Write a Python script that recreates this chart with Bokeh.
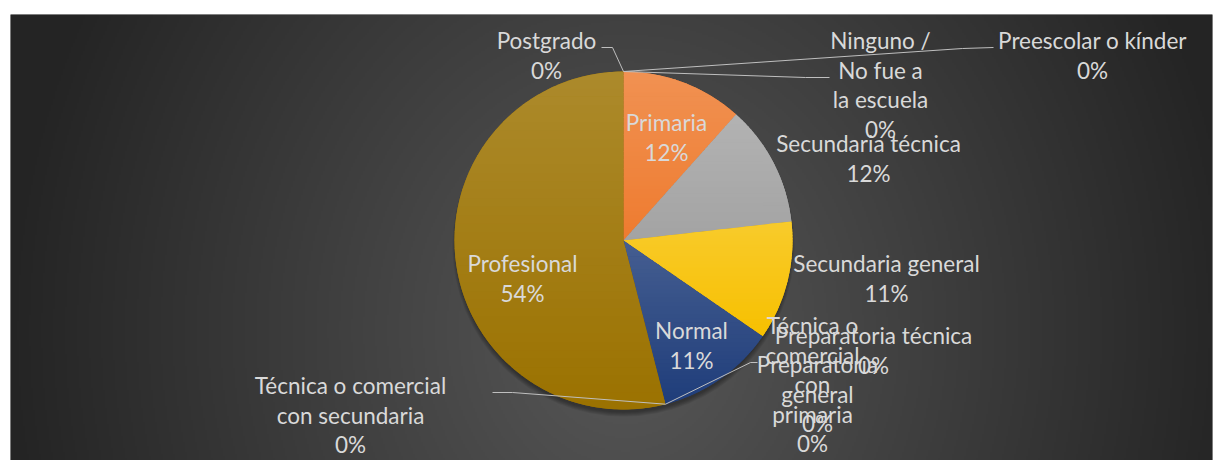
import numpy as np
from bokeh.plotting import figure
from bokeh.models import Range1d
from bokeh.embed import file_html
from bokeh.resources import INLINE
from bokeh.core.properties import value

# ---------------- data ----------------
categories = ["Ninguno / No fue a la escuela", "Preescolar o kínder", "Primaria",
              "Secundaria técnica", "Secundaria general",
              "Técnica o comercial con primaria", "Preparatoria técnica",
              "Preparatoria general", "Normal",
              "Técnica o comercial con secundaria", "Profesional", "Postgrado"]
values = [0, 0, 11.6, 11.6, 11.4, 0, 0, 0, 11.4, 0, 54.0, 0]

# label line wrapping (as displayed)
label_wrap = [["Ninguno /", "No fue a", "la escuela"], ["Preescolar o kínder"], ["Primaria"],
              ["Secundaria técnica"], ["Secundaria general"],
              ["Técnica o", "comercial", "con", "primaria"], ["Preparatoria técnica"],
              ["Preparatoria", "general"], ["Normal"],
              ["Técnica o comercial", "con secundaria"], ["Profesional"], ["Postgrado"]]

# ---------------- style / layout ----------------
colors = ["#5B9BD5", "#ED7D31", "#EE7B2F", "#A3A3A3", "#F7C000", "#4472C4",
          "#70AD47", "#264478", "#1F3D7A", "#636363", "#9B7200", "#43682B"]
# label positions in screen pixels (centre x, first line centre y)
label_pos = [(880, 40), (1092, 40), (666, 122), (868, 143), (886, 263), (812, 325),
             (873, 335), (817, 364), (691, 330), (350, 385), (522, 263), (546, 40)]
LINE_H = 29.5

X0, X1, Y0, Y1 = 10, 1212, 14, 460   # frame in screen px


def sy(y):
    return Y1 - y


p = figure(width=1221, height=460, output_backend="svg", toolbar_location=None,
           x_range=Range1d(X0, X1), y_range=Range1d(0, Y1 - Y0),
           x_axis_location=None, y_axis_location=None,
           min_border_left=10, min_border_right=9, min_border_top=14, min_border_bottom=0)
p.grid.visible = False
p.outline_line_color = None
p.border_fill_color = "white"
p.background_fill_color = "#3a3a3a"

# ---- background radial gradient ----
fw, fh = (X1 - X0) // 2, (Y1 - Y0) // 2
xs = X0 + (np.arange(fw) + 0.5) * 2
ys_data = (np.arange(fh) + 0.5) * 2
XX, YY = np.meshgrid(xs, sy(ys_data))
d = np.sqrt(((XX - 625) / 620.0) ** 2 + ((YY - 330) / 700.0) ** 2)
v = 36 + (88 - 36) * (1 - np.clip(d, 0, 1))
v = v.astype(np.uint32)
img = (255 << 24) | (v << 16) | (v << 8) | v
p.image_rgba(image=[img], x=X0, y=0, dw=X1 - X0, dh=Y1 - Y0)

# ---- pie ----
cx, cy_s, R = 623, 240, 169
cy = sy(cy_s)
vals = np.array(values, dtype=float)
frac = vals / vals.sum()
cum = np.concatenate([[0], np.cumsum(frac)])


def ang(a):
    return np.pi / 2 - 2 * np.pi * a


def pie_pt(a):
    return cx + R * np.cos(ang(a)), cy + R * np.sin(ang(a))


# shadow (offset downwards)
for k in range(5):
    p.circle(x=[cx], y=[cy - 5], radius=R + 2 - k, fill_color="black", fill_alpha=0.08,
             line_color=None)

nz = [i for i in range(len(values)) if values[i] > 0]
p.wedge(x=[cx] * len(nz), y=[cy] * len(nz), radius=R,
        start_angle=[ang(cum[i]) for i in nz], end_angle=[ang(cum[i + 1]) for i in nz],
        direction="clock", fill_color=[colors[i] for i in nz], line_color=None)


def clip(poly, y, keep_above):
    out = []
    n = len(poly)
    for k in range(n):
        a, b = poly[k], poly[(k + 1) % n]
        ina = a[1] >= y if keep_above else a[1] <= y
        inb = b[1] >= y if keep_above else b[1] <= y
        if ina:
            out.append(a)
        if ina != inb:
            t = (y - a[1]) / (b[1] - a[1])
            out.append((a[0] + t * (b[0] - a[0]), y))
    return out


def hex2rgb(h):
    return np.array([int(h[1:3], 16), int(h[3:5], 16), int(h[5:7], 16)], float)


# per-slice vertical gradient (lighter at top)
bx, by, bc = [], [], []
for i in nz:
    t = np.linspace(cum[i], cum[i + 1], 200)
    poly = [(cx, cy)] + [(cx + R * np.cos(ang(a)), cy + R * np.sin(ang(a))) for a in t]
    ymin = min(q[1] for q in poly)
    ymax = max(q[1] for q in poly)
    nb = 40
    edges = np.linspace(ymin, ymax, nb + 1)
    base = hex2rgb(colors[i])
    for b in range(nb):
        lo, hi = edges[b], edges[b + 1] + 0.7
        pp = clip(clip(poly, lo, True), hi, False)
        if len(pp) < 3:
            continue
        f = ((lo + edges[b + 1]) / 2 - ymin) / (ymax - ymin)
        a = 0.17 * f
        c = base * (1 - a) + 255 * a
        bx.append([q[0] for q in pp])
        by.append([q[1] for q in pp])
        bc.append("#%02x%02x%02x" % tuple(int(round(z)) for z in c))
p.patches(xs=bx, ys=by, fill_color=bc, line_color=None)

# ---- leader lines ----
lc = "#BFBFBF"
top = pie_pt(cum[0])
p.line([top[0], 612, 601], [top[1], sy(47), sy(47)], line_color=lc, line_width=1)   # Postgrado
p.line([top[0], 805, 829], [top[1], sy(77), sy(77)], line_color=lc, line_width=1)   # Ninguno
p.line([top[0], 962, 993], [top[1], sy(48), sy(47)], line_color=lc, line_width=1)   # Preescolar
b_np = pie_pt(cum[9])
p.line([b_np[0], 512, 492], [b_np[1], sy(392), sy(392)], line_color=lc, line_width=1)
p.line([b_np[0], 750, 757], [b_np[1], sy(362), sy(362)], line_color=lc, line_width=1)

# ---- labels ----
tx, ty, tt = [], [], []
for i, cat in enumerate(categories):
    lines = label_wrap[i] + ["%d%%" % round(frac[i] * 100)]
    x0, y0 = label_pos[i]
    for k, ln in enumerate(lines):
        tx.append(x0)
        ty.append(sy(y0 + k * LINE_H))
        tt.append(ln)
p.text(x=tx, y=ty, text=tt, text_font=value("Lato"), text_font_size="22.5px",
       text_color="#D9D9D9", text_align="center", text_baseline="middle")

open("out.html", "w").write(file_html(p, INLINE))
